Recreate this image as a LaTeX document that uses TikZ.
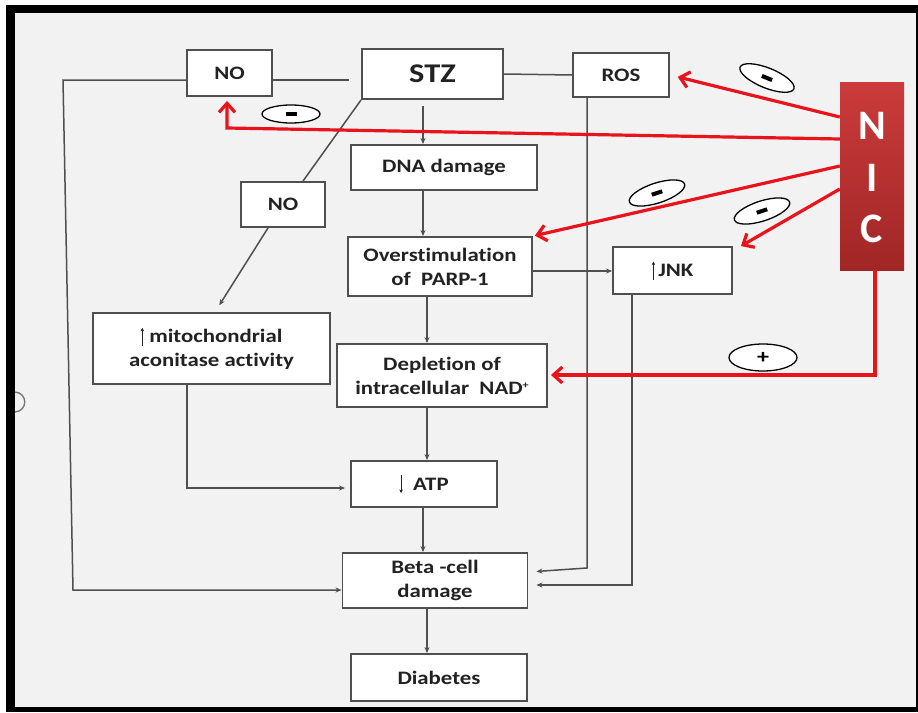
\documentclass[tikz,border=0pt]{standalone}
\usepackage{fontspec}
\setmainfont{Carlito}[FakeStretch=1.2,Ligatures=NoCommon]
\newfontfamily\nicfont{Carlito}
\usetikzlibrary{arrows.meta,shapes.geometric}
\definecolor{bg}{HTML}{F2F2F2}
\definecolor{edge}{HTML}{4F4F4F}
\definecolor{txt}{HTML}{222222}
\definecolor{nicred}{HTML}{E8131B}
\definecolor{nictop}{HTML}{CB3B3B}
\definecolor{nicbot}{HTML}{A12626}
\newcommand{\uparr}{\tikz[baseline=0pt]\draw[line width=1.2pt,-{Stealth[length=3.5pt,width=3.5pt]}] (0pt,-3pt)--(0pt,15pt);}
\newcommand{\downarr}{\tikz[baseline=0pt]\draw[line width=1.2pt,-{Stealth[length=3.5pt,width=3.5pt]}] (0pt,15pt)--(0pt,-3pt);}
\begin{document}
\begin{tikzpicture}[x=1pt,y=-1pt,
 box/.style={draw=edge,fill=white,line width=1.9pt,inner sep=0pt,text=txt,
   font=\fontsize{19}{24}\selectfont\bfseries,align=center},
 conn/.style={draw=edge,line width=1.5pt},
 arr/.style={conn,-{Stealth[length=6pt,width=5pt]}},
 redarr/.style={draw=nicred,line width=3.2pt,-{Straight Barb[length=9pt,width=16pt]}},
 sign/.style={ellipse,draw=black,fill=white,line width=1.3pt,inner sep=0pt,
   minimum width=58pt,minimum height=20pt}]
\useasboundingbox (0,0) rectangle (918,712);
\fill[white] (0,0) rectangle (918,712);
\fill[black] (6,5) rectangle (918,712);
\fill[bg] (15,13) rectangle (916,707);
\draw[edge!80,line width=1.3pt] (15,392) .. controls (28,393) and (28,411) .. (15,412);

% nodes
\node[box,minimum width=85pt,minimum height=46pt] (no1) at (229.5,73) {NO};
\node[box,minimum width=141pt,minimum height=50pt,font=\fontsize{27}{30}\selectfont\bfseries] (stz) at (432.5,74) {STZ};
\node[box,minimum width=96pt,minimum height=44pt] (ros) at (621,75) {ROS};
\node[box,minimum width=186pt,minimum height=45pt] (dna) at (444,167.5) {DNA damage};
\node[box,minimum width=84pt,minimum height=45pt] (no2) at (283,204.5) {NO};
\node[box,minimum width=184pt,minimum height=59pt] (parp) at (440,266.5) {Overstimulation\\of\ \ PARP-1};
\node[box,minimum width=119pt,minimum height=47pt] (jnk) at (672.5,270.5) {\uparr\,JNK};
\node[box,minimum width=237pt,minimum height=71pt] (mito) at (211.5,348.5) {\uparr\ mitochondrial\\aconitase activity};
\node[box,minimum width=210pt,minimum height=63pt] (nad) at (442,375.5) {Depletion of\\intracellular\ \ NAD\raisebox{6pt}{\fontsize{10}{10}\selectfont+}};
\node[box,minimum width=146pt,minimum height=46pt] (atp) at (424,484) {\downarr\ \ ATP};
\node[box,minimum width=185pt,minimum height=55pt] (beta) at (435,580.5) {Beta -cell\\damage};
\node[box,minimum width=176pt,minimum height=47pt] (diab) at (439,677.5) {Diabetes};
\node[minimum width=64pt,minimum height=188pt,top color=nictop,bottom color=nicbot,inner sep=0pt] (nic) at (872,176) {};
\node[text=white,align=center,inner sep=0pt,font=\nicfont\fontsize{42}{51.5}\selectfont\bfseries] (nicl) at (872,178) {N\\I\\C};

% black connectors
\draw[arr] ([yshift=-7pt]no1.west) -- (63,80) -- (73,590) -- (beta.west |- 0,590);
\draw[conn,shorten >=12pt] ([yshift=-7pt]no1.east) -- ([yshift=-6pt]stz.west);
\draw[conn] (stz.east) -- (ros.west);
\draw[arr,shorten <=6pt] (stz.south -| 423,0) -- (dna.north -| 423,0);
\draw[conn] (stz.south west) -- ([xshift=20pt]no2.north);
\draw[arr,shorten >=8pt] ([xshift=-15pt]no2.south) -- ([xshift=3.5pt]mito.north);
\draw[arr] (dna.south -| 423,0) -- (parp.north -| 423,0);
\draw[arr] (parp.east |- 0,271) -- (jnk.west |- 0,271);
\draw[arr] (parp.south -| 427,0) -- (nad.north -| 427,0);
\draw[arr] (nad.south -| 427,0) -- (atp.north -| 427,0);
\draw[arr,shorten >=5pt] (mito.south -| 187,0) -- (187,488) -- (atp.west |- 0,488);
\draw[arr] (atp.south -| 423,0) -- (beta.north -| 423,0);
\draw[arr] (beta.south -| 427,0) -- (diab.north -| 427,0);
\draw[arr,shorten >=8pt] (ros.south -| 587,0) -- (587,568) -- (beta.east |- 0,572);
\draw[arr,shorten >=8pt] (jnk.south -| 632,0) -- (632,585) -- (beta.east |- 0,585);

% red connectors
\draw[redarr,shorten >=8pt] (nic.west |- 0,117) -- (ros.east);
\draw[redarr,shorten >=4pt] (nic.west |- 0,139) -- (227,128) -- (no1.south -| 227,0);
\draw[redarr,shorten >=2pt] (nic.west |- 0,166) -- (parp.north east);
\draw[redarr] (nic.west |- 0,189) -- ([xshift=8pt]jnk.north east);
\draw[redarr,shorten >=3pt] (nic.south -| 875,0) -- (875,375) -- (nad.east |- 0,375);

% sign ellipses
\node[sign,rotate=-22] (s1) at (767,78) {\raisebox{-3pt}{\rule{11pt}{4pt}}};
\node[sign,minimum height=18pt] (s2) at (291,114) {\raisebox{-3pt}{\rule{11pt}{4pt}}};
\node[sign,rotate=18] (s3) at (657,193) {\raisebox{-3pt}{\rule{11pt}{4pt}}};
\node[sign,rotate=18] (s4) at (762,211) {\raisebox{-3pt}{\rule{11pt}{4pt}}};
\node[sign,minimum width=68pt,minimum height=27pt,font=\fontsize{20}{20}\selectfont\bfseries] (s5) at (763,357.5) {+};
\end{tikzpicture}
\end{document}
